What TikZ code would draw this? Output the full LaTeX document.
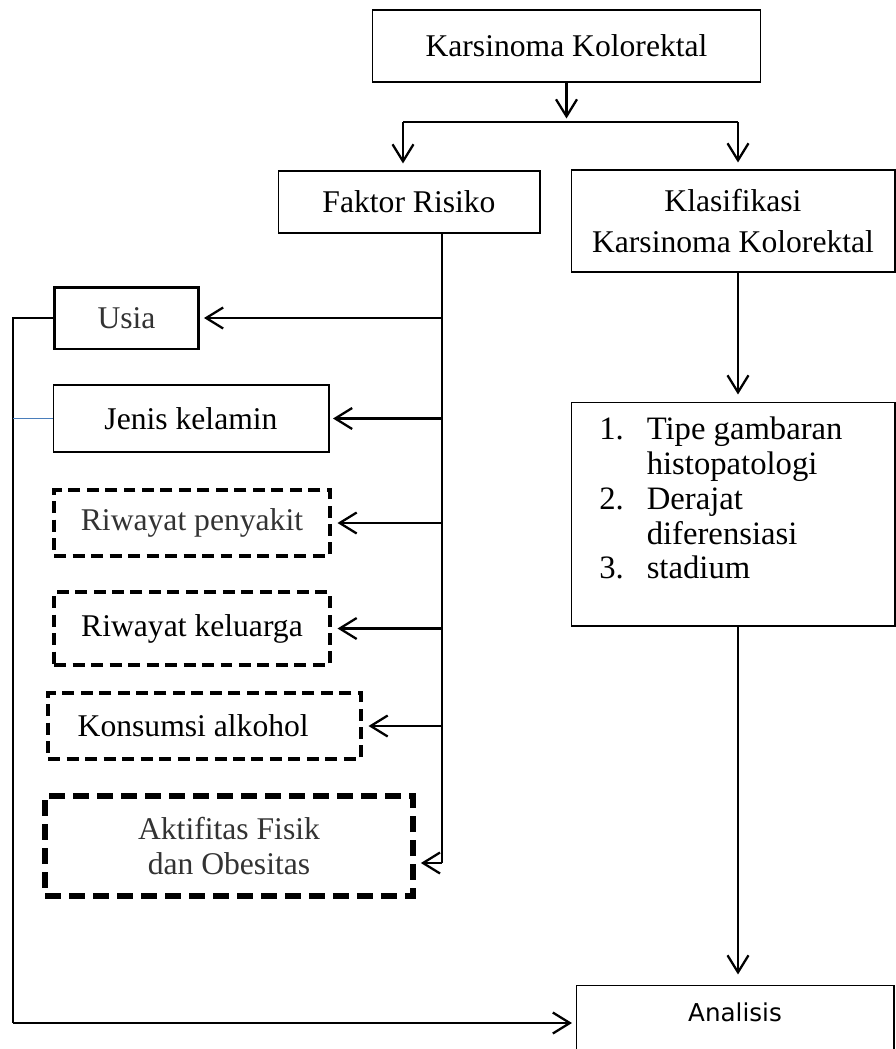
\documentclass[tikz,border=0pt]{standalone}
\usepackage{fontspec}
\setmainfont{Liberation Serif}
\newfontfamily\analisisfont{DejaVu Sans}
\usetikzlibrary{arrows.meta}
\definecolor{sideblue}{HTML}{4A7EBB}
\tikzset{
    box/.style={draw, line width=0.6pt, inner sep=0pt, align=center,
        font=\fontsize{18}{20}\selectfont},
    thickbox/.style={box, line width=1.7pt},
    dashbox/.style={box, line width=2.6pt, dash pattern=on 0.24cm off 0.13cm},
    conn/.style={line width=1.3pt},
    arr/.style={conn, -{Straight Barb[length=0.34cm, width=0.42cm]}, shorten >=2pt},
}

\begin{document}
\begin{tikzpicture}[x=0.02cm, y=-0.02cm]
    \useasboundingbox (0,0) rectangle (896,1049);

    % Top
    \node[box, minimum width=7.78cm, minimum height=1.44cm] (top) at (566.5,46) {Karsinoma Kolorektal};
    \node[box, minimum width=5.24cm, minimum height=1.24cm] (faktor) at (409,202) {Faktor Risiko};
    \node[box, minimum width=6.48cm, minimum height=2.04cm, font=\fontsize{18}{22.8}\selectfont]
        (klas) at (733,221) {Klasifikasi\\Karsinoma Kolorektal};
    \coordinate (fork) at (566.5,122);
    \coordinate (forkL) at (403,122);
    \coordinate (forkR) at (738,122);
    \draw[arr] (top.south) -- (fork);
    \draw[conn] (forkL) -- (forkR);
    \draw[arr, shorten >=4pt] (forkL) -- (forkL |- faktor.north);
    \draw[arr, shorten >=4pt] (forkR) -- (forkR |- klas.north);

    % Faktor risiko
    \node[thickbox, minimum width=2.9cm, minimum height=1.24cm, text=black!80] (usia) at (126.5,318) {Usia};
    \node[box, minimum width=5.52cm, minimum height=1.34cm] (jenis) at (191,418.5) {Jenis kelamin};
    \node[dashbox, minimum width=5.52cm, minimum height=1.32cm, text=black!80] (penyakit) at (192,523) {Riwayat penyakit};
    \node[dashbox, minimum width=5.52cm, minimum height=1.46cm] (keluarga) at (192,628.5) {Riwayat keluarga};
    \node[dashbox, minimum width=6.26cm, minimum height=1.32cm] (konsumsi) at (204.5,726) {Konsumsi alkohol\hspace{0.45cm}};
    \node[dashbox, line width=3pt, dash pattern=on 0.32cm off 0.16cm, minimum width=7.36cm,
        minimum height=2cm, text=black!80] (aktif) at (229,846) {Aktifitas Fisik\\dan Obesitas};
    \coordinate (spineTop) at (442,233);
    \coordinate (spineBot) at (442,863);
    \draw[conn] (spineTop) -- (spineBot);
    \draw[arr] (spineTop |- usia) -- (usia.east);
    \draw[arr] (spineTop |- jenis) -- (jenis.east);
    \draw[arr, shorten >=3pt] (spineTop |- penyakit) -- (penyakit.east);
    \draw[arr, shorten >=3pt] (spineTop |- keluarga) -- (keluarga.east);
    \draw[arr, shorten >=3pt] (spineTop |- konsumsi) -- (konsumsi.east);
    \draw[arr, shorten >=3pt] (spineBot) -- (spineBot -| aktif.east);

    % Klasifikasi
    \node[box, minimum width=6.48cm, minimum height=4.48cm] (list) at (733,514) {};
    \node[anchor=north west, inner sep=0pt, font=\fontsize{18.6}{19.8}\selectfont] (listtxt) at (599,415)
        {\begin{tabular}{@{}p{27pt}@{}l@{}}
            1. & Tipe gambaran\\
               & histopatologi\\
            2. & Derajat\\
               & diferensiasi\\
            3. & stadium
        \end{tabular}};
    \draw[arr, shorten >=4pt] (klas.south -| forkR) -- (list.north -| forkR);

    % Analisis
    \node[box, anchor=north, minimum width=6.36cm, inner ysep=0pt, text height=0.72cm, text depth=1.2cm,
        font=\analisisfont\fontsize{14}{16}\selectfont] (analisis) at (735,985) {Analisis};
    \draw[arr, shorten >=6pt] (list.south -| forkR) -- (analisis.north -| forkR);
    \coordinate (leftTop) at (13,318);
    \coordinate (leftBot) at (13,1023);
    \draw[conn] (usia.west) -- (leftTop) -- (leftBot);
    \draw[arr] (leftBot) -- (leftBot -| analisis.west);
    \draw[line width=0.6pt, sideblue] (leftTop |- jenis) -- (jenis.west);
\end{tikzpicture}
\end{document}
